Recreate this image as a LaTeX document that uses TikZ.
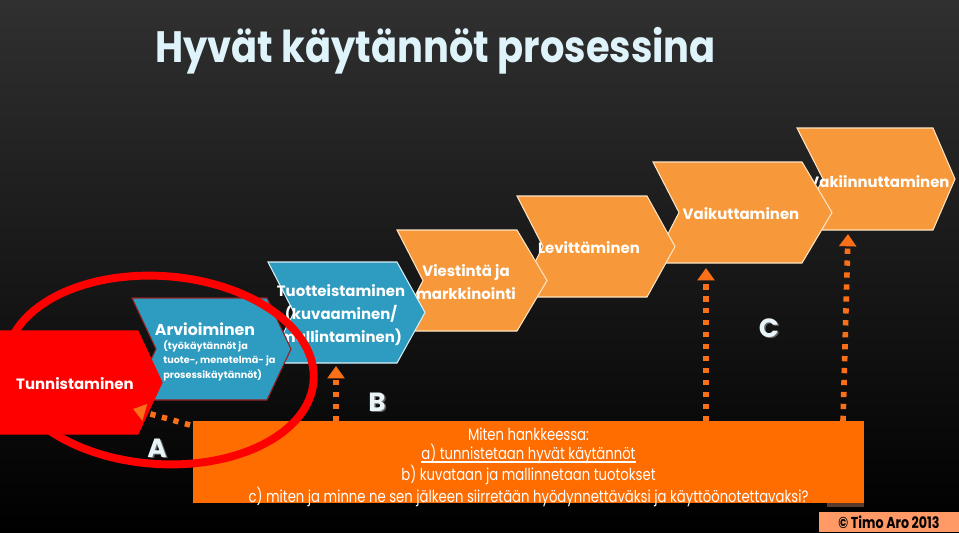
\documentclass[tikz,border=0pt]{standalone}
\usepackage{fontspec}
\setmainfont{Poppins}
\newfontfamily\narrowfont[FakeStretch=0.8]{Poppins}
\newfontfamily\titlefont[FakeStretch=0.875]{Poppins}
\usetikzlibrary{arrows.meta}

\newcommand\underrule[1]{\setbox0\hbox{#1}\rlap{\rule[-1.9pt]{\wd0}{0.75pt}}\box0}

\definecolor{bgtop}{RGB}{48,48,48}
\definecolor{titlecyan}{RGB}{222,243,250}
\definecolor{stepred}{RGB}{255,0,0}
\definecolor{stepblue}{RGB}{46,155,192}
\definecolor{steporange}{RGB}{247,153,58}
\definecolor{orangeedge}{RGB}{255,228,196}
\definecolor{blueedge}{RGB}{215,238,245}
\definecolor{darkedge}{RGB}{150,30,30}
\definecolor{boxorange}{RGB}{255,108,0}
\definecolor{arroworange}{RGB}{250,112,24}
\definecolor{stripgrey}{RGB}{90,60,45}
\definecolor{copysalmon}{RGB}{255,153,102}
\definecolor{letterwhite}{RGB}{232,244,248}

\begin{document}
\begin{tikzpicture}[x=0.02cm, y=-0.02cm,
    chevron/.style={line width=0.6pt},
    steptext/.style={text=white, inner sep=0pt, align=center,
        font=\bfseries\fontsize{8.5}{13}\selectfont},
    subtext/.style={text=white, inner sep=0pt, align=left,
        font=\bfseries\fontsize{5.5}{8.2}\selectfont},
    dotarrow/.style={arroworange, line width=3.2pt,
        dash pattern=on 3pt off 3.8pt, -{Triangle[width=9.5pt,length=7pt]}},
    letter/.style={text=letterwhite, inner sep=0pt,
        font=\bfseries\fontsize{15}{15}\selectfont},
    lettershadow/.style={letter, text=black!60}]

    % Background
    \useasboundingbox (0,0) rectangle (959,532);
    \shade[top color=bgtop, bottom color=black] (0,0) rectangle (959,532);

    % Title
    \node[anchor=base west, inner sep=0pt, text=titlecyan,
        font=\titlefont\bfseries\fontsize{25}{25}\selectfont]
        (title) at (155,62) {Hyvät käytännöt prosessina};

    % Draw the chevrons, the last step first
    \filldraw[chevron, fill=steporange, draw=orangeedge]
        (797,128) -- (933,128) -- (955,179) -- (933,230) -- (797,230) -- (823,179) -- cycle;
    \node[steptext] (vakiin) at (879,182) {Vakiinnuttaminen};

    \filldraw[chevron, fill=steporange, draw=orangeedge]
        (653,162) -- (802,162) -- (832,212.5) -- (802,263) -- (653,263) -- (679,212.5) -- cycle;
    \node[steptext] (vaikut) at (741,214) {Vaikuttaminen};

    \filldraw[chevron, fill=steporange, draw=orangeedge]
        (517,196) -- (647,196) -- (675,246.5) -- (647,297) -- (517,297) -- (543,246.5) -- cycle;
    \node[steptext] (levit) at (589,248) {Levittäminen};

    \filldraw[chevron, fill=steporange, draw=orangeedge]
        (397,230) -- (517,230) -- (547,280.5) -- (517,331) -- (397,331) -- (423,280.5) -- cycle;
    \node[steptext] (viest) at (466,282) {Viestintä ja\\markkinointi};

    \filldraw[chevron, fill=stepblue, draw=blueedge]
        (268,262) -- (397,262) -- (425,312.5) -- (397,363) -- (268,363) -- (294,312.5) -- cycle;
    \node[steptext] (tuott) at (341,315) {Tuotteistaminen\\(kuvaaminen/\\mallintaminen)};

    \filldraw[chevron, fill=stepblue, draw=darkedge]
        (132,298) -- (267,298) -- (291,349) -- (267,400) -- (132,400) -- (156,349) -- cycle;
    \node[steptext, font=\bfseries\fontsize{9}{9}\selectfont] (arvio) at (205,329) {Arvioiminen};
    \node[subtext, anchor=north west] (arviosub) at (163,340)
        {(työkäytännöt ja\\tuote-, menetelmä- ja\\prosessikäytännöt)};

    \filldraw[chevron, fill=stepred, draw=stepred]
        (0,331) -- (138,331) -- (162,382.5) -- (138,434) -- (0,434) -- cycle;
    \node[steptext] (tunnis) at (75,384) {Tunnistaminen};

    % Question box
    \fill[boxorange] (193,421) rectangle (864,503);
    \fill[stripgrey] (827,503) rectangle (864,507);
    \node[text=white, inner sep=0pt, align=center,
        font=\narrowfont\fontsize{9.4}{10.8}\selectfont] (how) at (528.5,467)
        {Miten hankkeessa:\\
         \underrule{a) tunnistetaan hyvät käytännöt}\\
         b) kuvataan ja mallinnetaan tuotokset\\
         c) miten ja minne ne sen jälkeen siirretään hyödynnettäväksi ja käyttöönotettavaksi?};

    % Red ring round the first two steps
    \draw[stepred, line width=4.5pt, rotate around={-4:(160,370)}]
        (160,370) ellipse [x radius=154, y radius=94];

    % Dotted arrows
    \coordinate (aFoot) at (190,425);
    \coordinate (aHead) at (133,409);
    \coordinate (bFoot) at (336,421);
    \coordinate (bHead) at (336,366);
    \coordinate (cFoot) at (706,421);
    \coordinate (cHead) at (706,268);
    \coordinate (dFoot) at (843,421);
    \coordinate (dHead) at (848,234);
    \draw[dotarrow] (aFoot) -- (aHead);
    \draw[dotarrow] (bFoot) -- (bHead);
    \draw[dotarrow] (cFoot) -- (cHead);
    \draw[dotarrow] (dFoot) -- (dHead);

    % Letters with shadow
    \node[lettershadow] (aShadow) at (158.5,449.5) {A};
    \node[letter] (aLabel) at (157,448) {A};
    \node[lettershadow] (bShadow) at (378.5,403.5) {B};
    \node[letter] (bLabel) at (377,402) {B};
    \node[lettershadow] (cShadow) at (770.5,329.5) {C};
    \node[letter] (cLabel) at (769,328) {C};

    % Copyright
    \node[fill=copysalmon, inner sep=0pt, minimum width=2.8cm, minimum height=0.4cm,
        font=\narrowfont\bfseries\fontsize{9}{9}\selectfont] (copy) at (889,522)
        {© Timo Aro 2013};
\end{tikzpicture}
\end{document}
